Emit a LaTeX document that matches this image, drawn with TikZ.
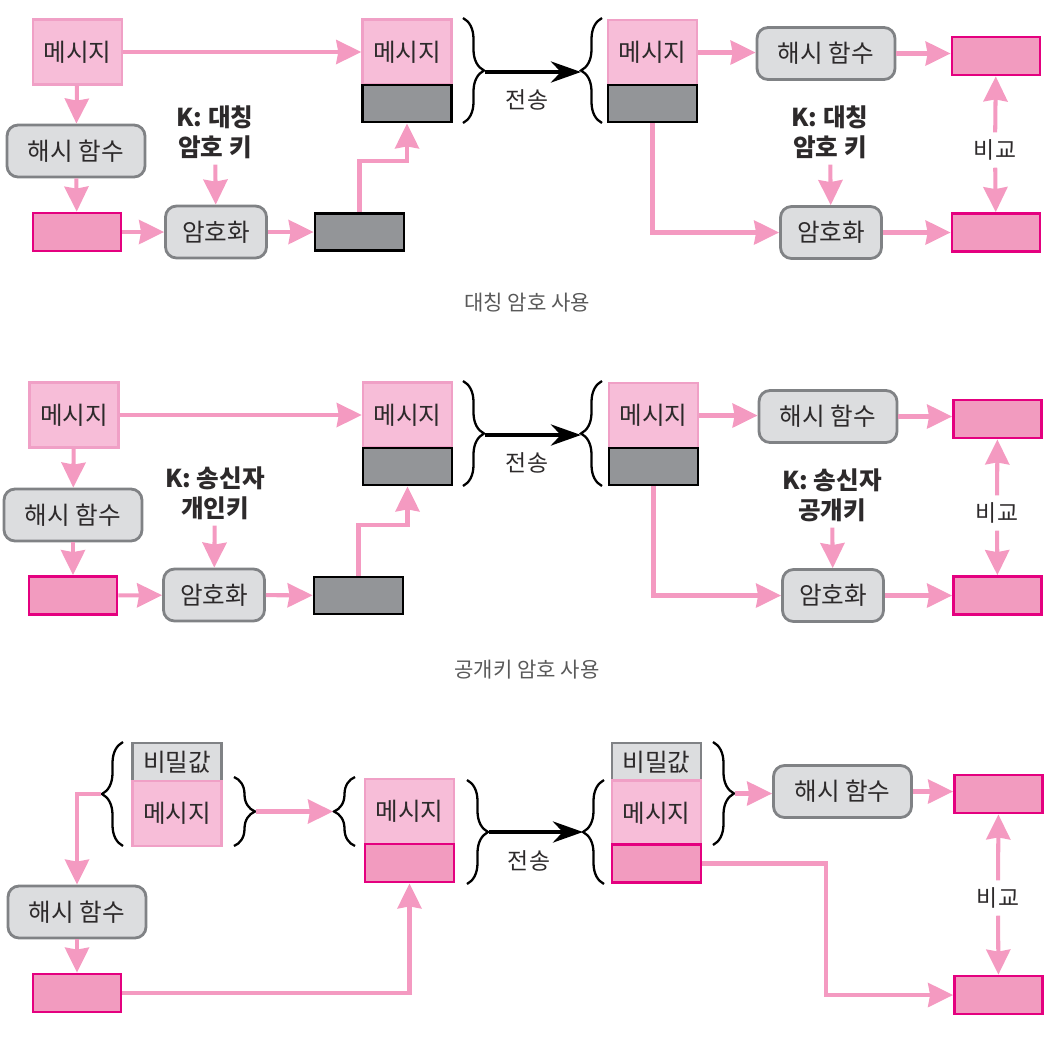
\documentclass[tikz,border=0pt]{standalone}
\usepackage{fontspec}
\setmainfont{Noto Sans CJK KR}
\usepackage{tikz}
\usetikzlibrary{arrows.meta, decorations.pathreplacing}
\definecolor{msgpink}{RGB}{247, 189, 216}
\definecolor{msgline}{RGB}{240, 160, 198}
\definecolor{arrpink}{RGB}{244, 154, 193}
\definecolor{digpink}{RGB}{242, 155, 191}
\definecolor{hotpink}{RGB}{228, 0, 127}
\definecolor{boxgray}{RGB}{220, 221, 223}
\definecolor{linegray}{RGB}{128, 130, 133}
\definecolor{darkgray}{RGB}{147, 149, 152}
\definecolor{txt}{RGB}{45, 42, 43}

\begin{document}
\begin{tikzpicture}[x=0.02cm, y=-0.02cm,
  every node/.style={text=txt, font=\fontsize{14}{16}\selectfont},
  msgbox/.style={draw=msgline, fill=msgpink, line width=1.4pt, minimum width=1.78cm, minimum height=1.3cm, inner sep=0pt},
  tagbox/.style={draw=black, fill=darkgray, line width=1.6pt, minimum width=1.78cm, minimum height=0.74cm, inner sep=0pt},
  digbox/.style={draw=hotpink, fill=digpink, line width=1.6pt, minimum width=1.76cm, minimum height=0.76cm, inner sep=0pt},
  secbox/.style={draw=linegray, fill=boxgray, line width=1.6pt, minimum width=1.78cm, minimum height=0.76cm, inner sep=0pt},
  func/.style={draw=linegray, fill=boxgray, rounded corners=0.22cm, line width=1.6pt, minimum width=2.76cm, minimum height=1.04cm},
  enc/.style={func, minimum width=2.02cm},
  keylabel/.style={font=\bfseries\fontsize{14}{17}\selectfont, align=center},
  link/.style={draw=arrpink, line width=2.3pt, -{Stealth[length=0.5cm, width=0.48cm, inset=0.04cm]}},
  send/.style={draw=black, line width=2.6pt, -{Stealth[length=0.6cm, width=0.42cm]}},
  curly/.style={draw=black, line width=1.3pt, decorate, decoration={brace, amplitude=0.42cm}},
  captext/.style={text=black!65, font=\fontsize{12}{14}\selectfont}]

  \useasboundingbox (0, 0) rectangle (1059, 1036);

  % --- panel 1 : sender
  \node[msgbox] (M1) at (77.5, 52) {메시지};
  \node[func] (H1) at (76, 151) {해시 함수};
  \node[digbox] (D1) at (77, 232) {};
  \node[enc] (E1) at (216, 232) {암호화};
  \node[keylabel] (K1) at (215, 132) {K: 대칭\\암호 키};
  \node[tagbox] (C1) at (359.5, 232) {};
  \node[msgbox] (S1msg) at (407, 52) {메시지};
  \node[tagbox] (S1tag) at (407, 103.5) {};

  \draw[link] (M1) -- (S1msg);
  \draw[link] (M1) -- (H1);
  \draw[link] (H1) -- (D1);
  \draw[link] (D1) -- (E1);
  \draw[link] (K1) -- (E1);
  \draw[link] (E1) -- (C1);
  \draw[link] (C1.north) -- ++(0, -51) -| (S1tag.south);

  % transmit
  \draw[curly] (463, 18) -- (463, 123);
  \draw[curly] (602, 123) -- (602, 18);
  \coordinate (T1a) at (485, 72);
  \coordinate (T1b) at (581, 72);
  \draw[send] (T1a) -- (T1b);
  \node[font=\fontsize{13}{15}\selectfont] (X1) at (527, 100) {전송};

  % panel 1 : receiver
  \node[msgbox] (R1msg) at (652.5, 52.5) {메시지};
  \node[tagbox] (R1tag) at (652.5, 103.5) {};
  \node[func] (RH1) at (826, 53.5) {해시 함수};
  \node[digbox] (RT1) at (996, 56) {};
  \node[keylabel] (RK1) at (830, 132) {K: 대칭\\암호 키};
  \node[enc] (RE1) at (831, 232.5) {암호화};
  \node[digbox] (RB1) at (996, 232.5) {};
  \node[inner sep=4pt, font=\fontsize{13}{15}\selectfont] (V1) at (995, 150) {비교};

  \draw[link] (R1msg) -- (R1msg -| RH1.west);
  \draw[link] (RH1) -- (RH1 -| RT1.west);
  \draw[link] (R1tag.south) |- (RE1.west);
  \draw[link] (RK1) -- (RE1);
  \draw[link] (RE1) -- (RB1);
  \draw[link] (V1) -- (RT1);
  \draw[link] (V1) -- (RB1);

  \node[captext] (cap1) at (527, 303) {대칭 암호 사용};

  % --- panel 2 : sender
  \node[msgbox] (M2) at (74, 415) {메시지};
  \node[func] (H2) at (73, 515) {해시 함수};
  \node[digbox] (D2) at (73, 595.5) {};
  \node[enc] (E2) at (214, 595) {암호화};
  \node[keylabel] (K2) at (215, 493) {K: 송신자\\개인키};
  \node[tagbox] (C2) at (358.5, 595.5) {};
  \node[msgbox] (S2msg) at (407.5, 415) {메시지};
  \node[tagbox] (S2tag) at (407.5, 466.5) {};

  \draw[link] (M2) -- (S2msg);
  \draw[link] (M2) -- (H2);
  \draw[link] (H2) -- (D2);
  \draw[link] (D2) -- (E2);
  \draw[link] (K2) -- (E2);
  \draw[link] (E2) -- (C2);
  \draw[link] (C2.north) -- ++(0, -51) -| (S2tag.south);

  % transmit
  \draw[curly] (463, 381) -- (463, 486);
  \draw[curly] (602, 486) -- (602, 381);
  \coordinate (T2a) at (485, 435);
  \coordinate (T2b) at (581, 435);
  \draw[send] (T2a) -- (T2b);
  \node[font=\fontsize{13}{15}\selectfont] (X2) at (527, 463) {전송};

  % panel 2 : receiver
  \node[msgbox] (R2msg) at (653.5, 415.5) {메시지};
  \node[tagbox] (R2tag) at (653.5, 466.5) {};
  \node[func] (RH2) at (828, 416.5) {해시 함수};
  \node[digbox] (RT2) at (997.5, 419) {};
  \node[keylabel] (RK2) at (832, 495) {K: 송신자\\공개키};
  \node[enc] (RE2) at (833, 595.5) {암호화};
  \node[digbox] (RB2) at (997.5, 595.5) {};
  \node[inner sep=4pt, font=\fontsize{13}{15}\selectfont] (V2) at (997, 513) {비교};

  \draw[link] (R2msg) -- (R2msg -| RH2.west);
  \draw[link] (RH2) -- (RH2 -| RT2.west);
  \draw[link] (R2tag.south) |- (RE2.west);
  \draw[link] (RK2) -- (RE2);
  \draw[link] (RE2) -- (RB2);
  \draw[link] (V2) -- (RT2);
  \draw[link] (V2) -- (RB2);

  \node[captext] (cap2) at (527, 670) {공개키 암호 사용};

  % --- panel 3 : sender
  \node[secbox] (SV3) at (177, 762) {비밀값};
  \node[msgbox] (M3) at (177, 813.5) {메시지};
  \node[func] (H3) at (77, 912) {해시 함수};
  \node[digbox] (D3) at (77, 993) {};
  \node[msgbox] (S3msg) at (409.5, 811.5) {메시지};
  \node[digbox, minimum width=1.78cm] (S3dig) at (409.5, 863) {};

  \draw[curly] (123, 846) -- (123, 742);
  \coordinate (B3a) at (101, 794);
  \draw[link] (B3a) -| (H3.north);
  \draw[link] (H3) -- (D3);
  \draw[link] (D3.east) -| (S3dig.south);

  \draw[curly] (234, 777) -- (234, 846);
  \draw[curly] (355, 846) -- (355, 777);
  \coordinate (B3b) at (256, 811.5);
  \coordinate (B3c) at (333, 811.5);
  \draw[link] (B3b) -- (B3c);

  % transmit
  \draw[curly] (467, 780) -- (467, 884);
  \draw[curly] (604, 884) -- (604, 780);
  \coordinate (T3a) at (489, 832);
  \coordinate (T3b) at (583, 832);
  \draw[send] (T3a) -- (T3b);
  \node[font=\fontsize{13}{15}\selectfont] (X3) at (529, 861) {전송};

  % panel 3 : receiver
  \node[secbox] (R3sec) at (656.5, 762) {비밀값};
  \node[msgbox] (R3msg) at (656.5, 813) {메시지};
  \node[digbox, minimum width=1.78cm] (R3dig) at (656.5, 863.5) {};
  \node[func] (RH3) at (842.5, 791.5) {해시 함수};
  \node[digbox] (RT3) at (998.5, 794) {};
  \node[digbox] (RB3) at (998.5, 995) {};
  \node[inner sep=4pt, font=\fontsize{13}{15}\selectfont] (V3) at (998, 898) {비교};

  \draw[curly] (713, 742) -- (713, 845);
  \coordinate (B3d) at (735, 793.5);
  \draw[link] (B3d) -- (B3d -| RH3.west);
  \draw[link] (RH3) -- (RH3 -| RT3.west);
  \draw[link] (R3dig.east) -- ++(124, 0) |- (RB3.west);
  \draw[link] (V3) -- (RT3);
  \draw[link] (V3) -- (RB3);

\end{tikzpicture}
\end{document}
